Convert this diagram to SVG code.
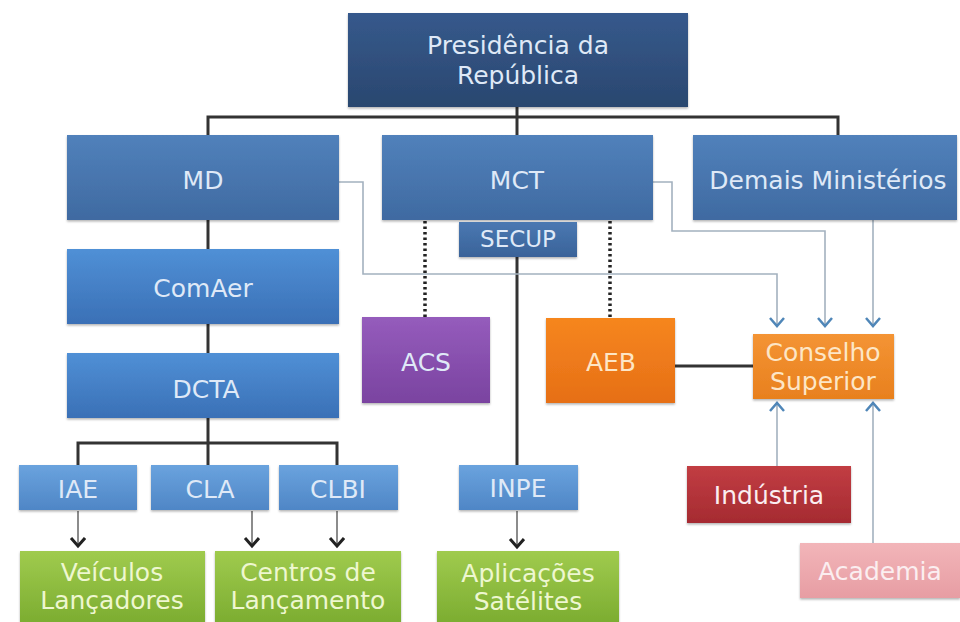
<svg xmlns="http://www.w3.org/2000/svg" width="960" height="622" viewBox="0 0 960 622">
<defs>
<linearGradient id="gPres" x1="0" y1="0" x2="0" y2="1"><stop offset="0" stop-color="#36598c"/><stop offset="1" stop-color="#2a476f"/></linearGradient>
<linearGradient id="gMin" x1="0" y1="0" x2="0" y2="1"><stop offset="0" stop-color="#5181bb"/><stop offset="1" stop-color="#3f6aa1"/></linearGradient>
<linearGradient id="gCom" x1="0" y1="0" x2="0" y2="1"><stop offset="0" stop-color="#5090d6"/><stop offset="1" stop-color="#3a70b6"/></linearGradient>
<linearGradient id="gSmall" x1="0" y1="0" x2="0" y2="1"><stop offset="0" stop-color="#6aa3de"/><stop offset="1" stop-color="#4f86c6"/></linearGradient>
<linearGradient id="gSec" x1="0" y1="0" x2="0" y2="1"><stop offset="0" stop-color="#4a78b2"/><stop offset="1" stop-color="#3a6399"/></linearGradient>
<linearGradient id="gPur" x1="0" y1="0" x2="0" y2="1"><stop offset="0" stop-color="#955cbc"/><stop offset="1" stop-color="#7a43a0"/></linearGradient>
<linearGradient id="gOr" x1="0" y1="0" x2="0" y2="1"><stop offset="0" stop-color="#f6861f"/><stop offset="1" stop-color="#e66f16"/></linearGradient>
<linearGradient id="gCon" x1="0" y1="0" x2="0" y2="1"><stop offset="0" stop-color="#f49434"/><stop offset="1" stop-color="#e8801e"/></linearGradient>
<linearGradient id="gRed" x1="0" y1="0" x2="0" y2="1"><stop offset="0" stop-color="#c23d43"/><stop offset="1" stop-color="#a52b31"/></linearGradient>
<linearGradient id="gPink" x1="0" y1="0" x2="0" y2="1"><stop offset="0" stop-color="#f2b5b9"/><stop offset="1" stop-color="#e79da3"/></linearGradient>
<linearGradient id="gGreen" x1="0" y1="0" x2="0" y2="1"><stop offset="0" stop-color="#a0cb4e"/><stop offset="1" stop-color="#7cad31"/></linearGradient>
<marker id="chevB" markerUnits="userSpaceOnUse" markerWidth="12" markerHeight="18" refX="9" refY="8" orient="auto" viewBox="0 0 12 18">
<path d="M1,1 L9,8 L1,15" fill="none" stroke="#222" stroke-width="3"/>
</marker>
<marker id="chevBlue" markerUnits="userSpaceOnUse" markerWidth="12" markerHeight="18" refX="9" refY="8" orient="auto" viewBox="0 0 12 18">
<path d="M1,1 L9,8 L1,15" fill="none" stroke="#4f86b8" stroke-width="2.5"/>
</marker>
<filter id="sh" x="-5%" y="-5%" width="110%" height="120%"><feDropShadow dx="0" dy="1.5" stdDeviation="1.2" flood-color="#000" flood-opacity="0.3"/></filter>
</defs>
<style>
text{font-family:"DejaVu Sans","Verdana",sans-serif;font-size:25px;text-anchor:middle}
.tb{fill:#dfe9f7}
.tg{fill:#eef7d0}
.to{fill:#fde6c6}
.tw{fill:#fbeef0}
.bus{fill:none;stroke:#333;stroke-width:3}
.thin{fill:none;stroke:#666;stroke-width:1.5;marker-end:url(#chevB)}
.dots{fill:none;stroke:#222;stroke-width:3.5;stroke-dasharray:2.5 3}
.blue{fill:none;stroke:#a3b1bf;stroke-width:1.6;marker-end:url(#chevBlue)}
rect{filter:url(#sh)}
</style>
<rect width="960" height="622" fill="#ffffff" style="filter:none"/>
<g id="connectors">
<path class="bus" d="M208,135 V117 H838 V135"/>
<path class="bus" d="M517,107 V135"/>
<path class="bus" d="M208,220 V249"/>
<path class="bus" d="M208,324 V353"/>
<path class="bus" d="M208,418 V466"/>
<path class="bus" d="M78,466 V443 H337 V466"/>
<path class="bus" d="M517,257 V465"/>
<path class="bus" d="M675,366 H753"/>
<path class="dots" d="M425,221 V317"/>
<path class="dots" d="M610,221 V318"/>
<path class="thin" d="M78,511 V546"/>
<path class="thin" d="M252,511 V546"/>
<path class="thin" d="M337,511 V546"/>
<path class="thin" d="M517,511 V547"/>
<path class="blue" d="M339,182 H363 V274 H777 V326"/>
<path class="blue" d="M653,182 H672 V231 H825 V326"/>
<path class="blue" d="M873,220 V326"/>
<path class="blue" d="M777,466 V403"/>
<path class="blue" d="M873,543 V403"/>
</g>
<g id="presidencia"><rect x="348" y="13" width="340" height="94" fill="url(#gPres)"/><text class="tb" x="518" y="54">Presidência da</text><text class="tb" x="518" y="84">República</text></g>
<g id="md"><rect x="67" y="135" width="272" height="85" fill="url(#gMin)"/><text class="tb" x="203" y="189">MD</text></g>
<g id="mct"><rect x="382" y="135" width="271" height="85" fill="url(#gMin)"/><text class="tb" x="517" y="189">MCT</text></g>
<g id="demais"><rect x="693" y="135" width="264" height="85" fill="url(#gMin)"/><text class="tb" x="828" y="189">Demais Ministérios</text></g>
<g id="secup"><rect x="459" y="222" width="118" height="35" fill="url(#gSec)"/><text class="tb" x="518" y="247" style="font-size:23px">SECUP</text></g>
<g id="comaer"><rect x="67" y="249" width="272" height="75" fill="url(#gCom)"/><text class="tb" x="203" y="297">ComAer</text></g>
<g id="dcta"><rect x="67" y="353" width="272" height="65" fill="url(#gCom)"/><text class="tb" x="206" y="398">DCTA</text></g>
<g id="acs"><rect x="362" y="317" width="128" height="86" fill="url(#gPur)"/><text class="tb" x="426" y="371">ACS</text></g>
<g id="aeb"><rect x="546" y="318" width="129" height="85" fill="url(#gOr)"/><text class="to" x="611" y="371">AEB</text></g>
<g id="conselho"><rect x="753" y="334" width="141" height="65" fill="url(#gCon)"/><text class="to" x="823" y="361">Conselho</text><text class="to" x="823" y="390">Superior</text></g>
<g id="iae"><rect x="19" y="465" width="118" height="45" fill="url(#gSmall)"/><text class="tb" x="78" y="498">IAE</text></g>
<g id="cla"><rect x="151" y="465" width="118" height="45" fill="url(#gSmall)"/><text class="tb" x="210" y="498">CLA</text></g>
<g id="clbi"><rect x="279" y="465" width="119" height="45" fill="url(#gSmall)"/><text class="tb" x="338" y="498">CLBI</text></g>
<g id="inpe"><rect x="459" y="465" width="119" height="45" fill="url(#gSmall)"/><text class="tb" x="518" y="497">INPE</text></g>
<g id="industria"><rect x="687" y="466" width="164" height="57" fill="url(#gRed)"/><text class="tw" x="769" y="504">Indústria</text></g>
<g id="academia"><rect x="800" y="543" width="160" height="55" fill="url(#gPink)"/><text class="tw" x="880" y="580">Academia</text></g>
<g id="veiculos"><rect x="20" y="551" width="185" height="71" fill="url(#gGreen)"/><text class="tg" x="112" y="581">Veículos</text><text class="tg" x="112" y="609">Lançadores</text></g>
<g id="centros"><rect x="215" y="551" width="186" height="71" fill="url(#gGreen)"/><text class="tg" x="308" y="581">Centros de</text><text class="tg" x="308" y="609">Lançamento</text></g>
<g id="aplicacoes"><rect x="437" y="551" width="182" height="71" fill="url(#gGreen)"/><text class="tg" x="528" y="582">Aplicações</text><text class="tg" x="528" y="610">Satélites</text></g>
</svg>
